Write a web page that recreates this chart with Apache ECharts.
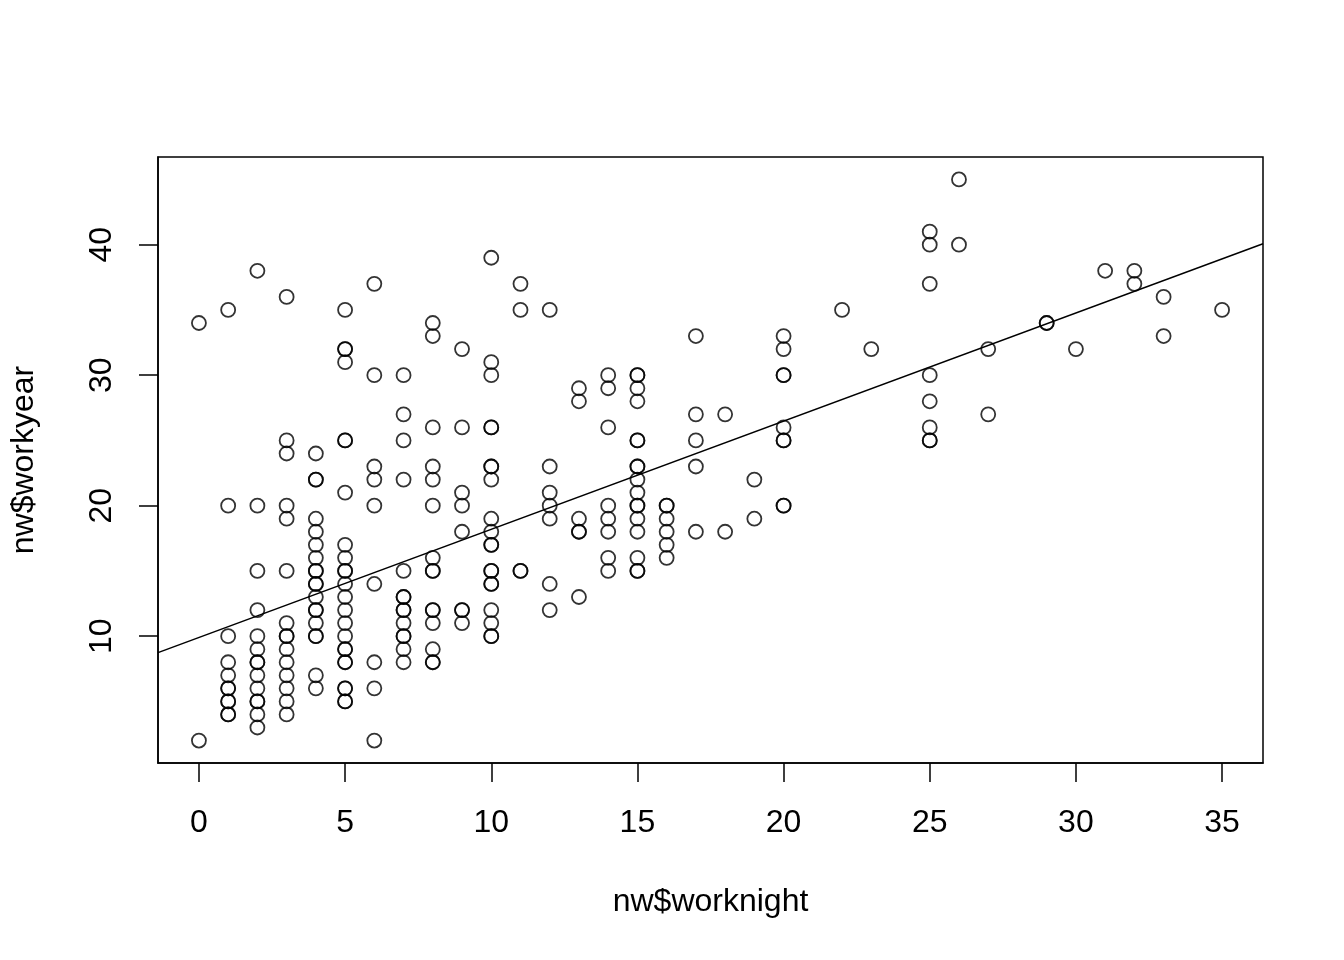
<!DOCTYPE html>
<html>
<head>
<meta charset="utf-8">
<script src="https://cdn.jsdelivr.net/npm/echarts@6/dist/echarts.min.js"></script>
<style>
  html, body { margin: 0; padding: 0; background: #ffffff; }
  #chart { width: 1344px; height: 960px; }
</style>
</head>
<body>
<div id="chart"></div>
<script>
// worknight values (x) and the workyear values (y) observed at each of them
const worknightValues = [0, 1, 2, 3, 4, 5, 6, 7, 8, 9, 10, 11, 12, 13, 14, 15, 16, 17, 18, 19, 20, 22, 23, 25, 26, 27, 29, 30, 31, 32, 33, 35];
const workyearByNight = [
  [34, 2],
  [35, 20, 10, 8, 7, 6, 6, 5, 5, 4, 4],
  [38, 20, 15, 12, 10, 9, 8, 8, 7, 6, 5, 5, 4, 3],
  [36, 25, 24, 20, 19, 15, 11, 10, 10, 9, 8, 7, 6, 5, 4],
  [24, 22, 22, 19, 18, 17, 16, 15, 15, 14, 14, 13, 12, 12, 11, 10, 10, 7, 6],
  [35, 32, 32, 31, 25, 25, 21, 17, 16, 15, 15, 14, 13, 12, 11, 10, 9, 9, 8, 8, 6, 6, 5, 5],
  [37, 30, 23, 22, 20, 14, 8, 6, 2],
  [30, 27, 25, 22, 15, 13, 13, 12, 12, 11, 10, 10, 9, 8],
  [34, 33, 26, 23, 22, 20, 16, 15, 15, 12, 12, 11, 9, 8, 8],
  [32, 26, 21, 20, 18, 12, 12, 11],
  [39, 31, 30, 26, 26, 23, 23, 22, 19, 18, 17, 17, 15, 15, 14, 14, 12, 11, 10, 10],
  [37, 35, 15, 15],
  [35, 23, 21, 20, 19, 14, 12],
  [29, 28, 19, 18, 18, 13],
  [30, 29, 26, 20, 19, 18, 16, 15],
  [30, 30, 29, 28, 25, 25, 23, 23, 22, 21, 20, 20, 19, 18, 16, 15, 15],
  [20, 20, 19, 18, 17, 16],
  [33, 27, 25, 23, 18],
  [27, 18],
  [22, 19],
  [33, 32, 30, 30, 26, 25, 25, 20, 20],
  [35],
  [32],
  [41, 40, 37, 30, 28, 26, 25, 25],
  [45, 40],
  [32, 27],
  [34, 34],
  [32],
  [38],
  [38, 37],
  [36, 33],
  [35]
];
// fitted line
const fitIntercept = 9.9;
const fitSlope = 0.829;
// axis ticks
const xTicks = [0, 5, 10, 15, 20, 25, 30, 35];
const yTicks = [10, 20, 30, 40];
const xTitle = 'nw$worknight';
const yTitle = 'nw$workyear';

// R-style 4% axis extension
const allX = [], allY = [];
const points = [];
worknightValues.forEach((x, i) => {
  workyearByNight[i].forEach(y => { points.push([x, y]); allX.push(x); allY.push(y); });
});
const xMinD = Math.min(...allX), xMaxD = Math.max(...allX);
const yMinD = Math.min(...allY), yMaxD = Math.max(...allY);
const xPad = (xMaxD - xMinD) * 0.04, yPad = (yMaxD - yMinD) * 0.04;
const xMin = xMinD - xPad, xMax = xMaxD + xPad;
const yMin = yMinD - yPad, yMax = yMaxD + yPad;
const fitLine = [[xMin, fitIntercept + fitSlope * xMin], [xMax, fitIntercept + fitSlope * xMax]];

const font = 'Liberation Sans, Arial, Helvetica, sans-serif';
const chart = echarts.init(document.getElementById('chart'));
chart.setOption({
  animation: false,
  backgroundColor: '#ffffff',
  grid: {
    left: 157, right: 81, top: 157, bottom: 197,
    show: true, borderColor: '#000', borderWidth: 1.5, backgroundColor: 'transparent'
  },
  xAxis: {
    type: 'value', min: xMin, max: xMax,
    name: xTitle, nameLocation: 'middle', nameGap: 123,
    nameTextStyle: { fontFamily: font, fontSize: 32, color: '#000' },
    splitLine: { show: false },
    axisLine: { show: true, onZero: false, lineStyle: { color: '#000', width: 1.5 } },
    axisTick: { show: true, inside: false, customValues: xTicks, length: 19, lineStyle: { color: '#000', width: 1.5 } },
    axisLabel: { customValues: xTicks, margin: 44, fontFamily: font, fontSize: 32, color: '#000' }
  },
  yAxis: {
    type: 'value', min: yMin, max: yMax,
    name: yTitle, nameLocation: 'middle', nameGap: 118, nameRotate: 90,
    nameTextStyle: { fontFamily: font, fontSize: 32, color: '#000' },
    splitLine: { show: false },
    axisLine: { show: true, onZero: false, lineStyle: { color: '#000', width: 1.5 } },
    axisTick: { show: true, inside: false, customValues: yTicks, length: 19, lineStyle: { color: '#000', width: 1.5 } },
    axisLabel: { customValues: yTicks, rotate: 90, margin: 40, align: 'center', verticalAlign: 'bottom', fontFamily: font, fontSize: 32, color: '#000' }
  },
  series: [
    {
      type: 'scatter', silent: true,
      data: points,
      symbol: 'circle', symbolSize: 14,
      itemStyle: { color: 'rgba(0,0,0,0)', borderColor: '#000', borderWidth: 1.8 }
    },
    {
      type: 'line', silent: true,
      data: fitLine, showSymbol: false, symbol: 'none',
      lineStyle: { color: '#000', width: 1.5 }
    }
  ]
});
</script>
</body>
</html>
